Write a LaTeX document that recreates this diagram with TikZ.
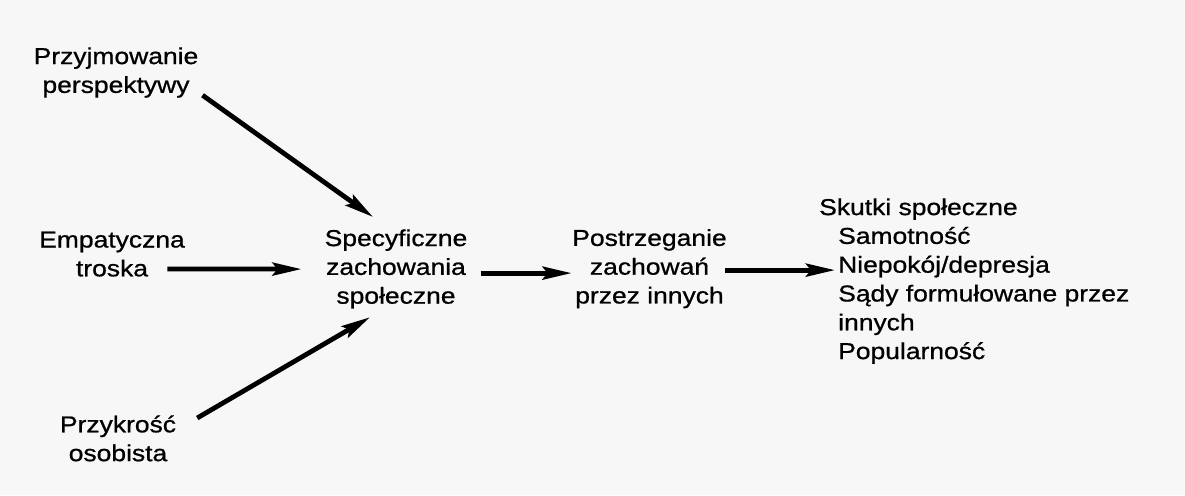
\documentclass[tikz,border=0pt]{standalone}
\usepackage{fontspec}
\setmainfont{Liberation Sans}[FakeStretch=1.15,FakeBold=0.8]
\usetikzlibrary{arrows.meta}
\begin{document}
\begin{tikzpicture}[x=1pt,y=-1pt,
  lbl/.style={font=\fontsize{23}{28.8}\selectfont, align=center, inner sep=0pt, anchor=north, text=black},
  arr/.style={line width=4.8pt, -{Stealth[length=29pt,width=13pt,inset=5pt]}, black}]
\useasboundingbox[fill=black!3] (0,0) rectangle (1185,495);
\node[lbl] (A) at (116,47.2) {Przyjmowanie\\perspektywy};
\node[lbl] (B) at (112,231.5) {Empatyczna\\troska};
\node[lbl] (C) at (396,229.2) {Specyficzne\\zachowania\\społeczne};
\node[lbl] (D) at (649.5,229) {Postrzeganie\\zachowań\\przez innych};
\node[lbl] (E) at (118,415.2) {Przykrość\\osobista};
\node[lbl, align=left, anchor=north west] (F) at (819,198.2) {Skutki społeczne\\
\hspace*{19pt}Samotność\\
\hspace*{19pt}Niepokój/depresja\\
\hspace*{19pt}Sądy formułowane przez\\
\hspace*{19pt}innych\\
\hspace*{19pt}Popularność};
\draw[arr] ([xshift=4pt,yshift=2.6pt]A.south east) -- ([xshift=-23pt,yshift=12.2pt]C.north);
\draw[arr] ([xshift=-17.6pt,yshift=7.8pt]B.south east) -- ([xshift=-23pt,yshift=-0.2pt]C.west);
\draw[arr] ([xshift=21pt,yshift=-2.8pt]E.north east) -- ([xshift=-26pt,yshift=-8.6pt]C.south);
\draw[arr] ([xshift=13pt,yshift=-4.2pt]C.east) -- ([xshift=-0.5pt,yshift=-4.2pt]D.west |- C.east);
\draw[arr] ([xshift=-1.5pt,yshift=-1.4pt]D.east) -- ([xshift=16pt,yshift=-1.4pt]F.west |- D.east);
\end{tikzpicture}
\end{document}
